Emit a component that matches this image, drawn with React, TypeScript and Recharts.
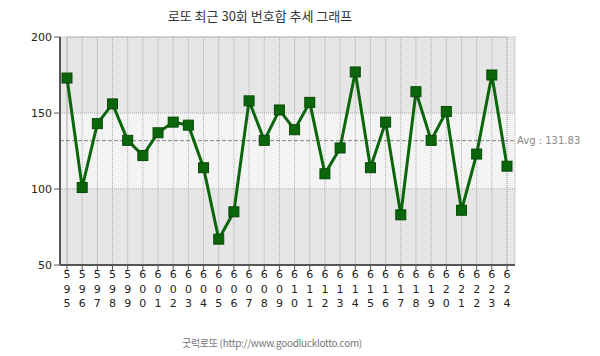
import { CartesianGrid, LineChart, Line, ReferenceArea, ReferenceLine, XAxis, YAxis } from 'recharts';

// 회차 / 번호합
const rounds = [
  595, 596, 597, 598, 599, 600, 601, 602, 603, 604, 605, 606, 607, 608, 609,
  610, 611, 612, 613, 614, 615, 616, 617, 618, 619, 620, 621, 622, 623, 624,
];
const sums = [
  173, 101, 143, 156, 132, 122, 137, 144, 142, 114, 67, 85, 158, 132, 152,
  139, 157, 110, 127, 177, 114, 144, 83, 164, 132, 151, 86, 123, 175, 115,
];
const yTicks = [50, 100, 150, 200];
const avgValue = 131.83;

const data = rounds.map((r, i) => ({ round: String(r), sum: sums[i] }));

const GREEN = '#0b650b';
const DIGIT_FONT = '"DejaVu Sans", sans-serif';
const KR_FONT = '"Noto Sans CJK KR", sans-serif';

function VerticalTick(props: any) {
  const { x, y, payload } = props;
  const chars = String(payload.value).split('');
  return (
    <g>
      {chars.map((c, i) => (
        <text
          key={i}
          x={x}
          y={y + 6 + i * 14.5}
          textAnchor="middle"
          fontSize={11}
          fontFamily={DIGIT_FONT}
          fill="#222"
        >
          {c}
        </text>
      ))}
    </g>
  );
}

function SquareDot(props: any) {
  const { cx, cy } = props;
  if (cx == null || cy == null) return null;
  return <rect x={cx - 5} y={cy - 5} width={10} height={10} fill={GREEN} stroke="#064a06" strokeWidth={1} />;
}

export default function App() {
  return (
    <div style={{ position: 'absolute', left: 0, top: 0, width: 600, height: 356, background: '#fff' }}>
      <div
        style={{
          position: 'absolute', top: 6, left: 110, width: 300, textAlign: 'center',
          fontSize: 13, fontFamily: KR_FONT, color: '#333', whiteSpace: 'nowrap',
        }}
      >
        로또 최근 30회 번호합 추세 그래프
      </div>
      <LineChart
        width={600}
        height={356}
        data={data}
        margin={{ top: 37, right: 85, left: 0, bottom: 0 }}
      >
        <CartesianGrid
          stroke="#aaa"
          strokeDasharray="1 1"
          horizontalFill={['#e6e6e6', '#f3f3f3', '#e6e6e6']}
          fillOpacity={1}
        />
        <ReferenceArea y1={50} y2={200} fill="none" stroke="#aaa" strokeDasharray="1 1" />
        <XAxis
          dataKey="round"
          interval={0}
          padding={{ left: 7, right: 8 }}
          height={91}
          tickSize={5}
          tickLine={{ stroke: '#555' }}
          axisLine={{ stroke: '#555', strokeWidth: 2 }}
          tick={<VerticalTick />}
        />
        <YAxis
          domain={[50, 200]}
          ticks={yTicks}
          width={60}
          tickSize={6}
          tickMargin={2}
          tickLine={{ stroke: '#555' }}
          axisLine={{ stroke: '#555', strokeWidth: 2 }}
          tick={{ fontSize: 11, fontFamily: DIGIT_FONT, fill: '#222' }}
        />
        <ReferenceLine
          y={avgValue}
          stroke="#888"
          strokeDasharray="4 2"
          label={{
            value: `Avg : ${avgValue}`,
            position: 'right',
            offset: 2,
            fontSize: 10,
            fontFamily: DIGIT_FONT,
            fill: '#888',
          }}
        />
        <Line
          type="linear"
          dataKey="sum"
          stroke={GREEN}
          strokeWidth={3}
          dot={<SquareDot />}
          activeDot={false}
          isAnimationActive={false}
        />
      </LineChart>
      <div
        style={{
          position: 'absolute', top: 335, left: 122, width: 300, textAlign: 'center',
          fontSize: 10, letterSpacing: -0.3, fontFamily: KR_FONT, color: '#777', whiteSpace: 'nowrap',
        }}
      >
        굿럭로또 (http://www.goodlucklotto.com)
      </div>
    </div>
  );
}
